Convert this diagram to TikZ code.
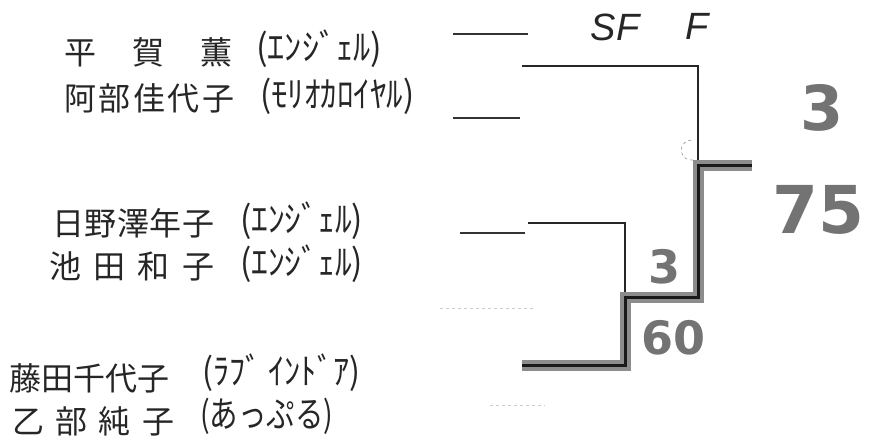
\documentclass[tikz,border=0pt]{standalone}
\usepackage{fontspec}
\usepackage{graphicx}
\newfontfamily\jp{Noto Sans CJK JP}
\newfontfamily\hand{DejaVu Sans}
\newfontfamily\letters{Liberation Sans}
\newcommand\spreadtxt[2]{\makebox[#1pt][s]{#2}}
\newcommand\clubtxt[2]{\resizebox{#1pt}{\height}{#2}}
\tikzset{
  namebox/.style={anchor=west, inner sep=0pt, text=black!85, font=\jp\fontsize{32}{32}\selectfont},
  clubbox/.style={anchor=west, inner sep=0pt, text=black!85, font=\jp\fontsize{36}{36}\selectfont},
  headbox/.style={inner sep=0pt, text=black!85, font=\letters\itshape\fontsize{38}{38}\selectfont},
  scorebox/.style={inner sep=0pt, text=black!55, font=\hand\bfseries},
  thinline/.style={line width=1.8pt, draw=black!85},
  faintline/.style={line width=1.2pt, draw=black!80},
  heavyline/.style={line width=3pt, draw=black!90, line join=miter,
     preaction={draw, line width=11pt, black!45, line join=miter}},
  ghost/.style={line width=0.6pt, draw=black!20, dashed}
}
\begin{document}
\begin{tikzpicture}[x=1pt,y=-1pt]
\useasboundingbox (0,0) rectangle (869,441);
\fill[white] (0,0) rectangle (869,441);

% names
\node[namebox] (n1) at (64,52) {\spreadtxt{168}{平\hfill 賀\hfill 薫}};
\node[clubbox] (c1) at (256,49) {\clubtxt{126}{(ｴﾝｼﾞｪﾙ)}};
\node[namebox] (n2) at (64,98) {\spreadtxt{170}{阿\hfill 部\hfill 佳\hfill 代\hfill 子}};
\node[clubbox] (c2) at (260,96) {\clubtxt{154}{(ﾓﾘｵｶﾛｲﾔﾙ)}};
\node[namebox] (n3) at (52,223) {\spreadtxt{162}{日\hfill 野\hfill 澤\hfill 年\hfill 子}};
\node[clubbox] (c3) at (240,221) {\clubtxt{123}{(ｴﾝｼﾞｪﾙ)}};
\node[namebox] (n4) at (49,266) {\spreadtxt{165}{池\hfill 田\hfill 和\hfill 子}};
\node[clubbox] (c4) at (240,264) {\clubtxt{123}{(ｴﾝｼﾞｪﾙ)}};
\node[namebox] (n5) at (9,378) {\spreadtxt{160}{藤\hfill 田\hfill 千\hfill 代\hfill 子}};
\node[clubbox] (c5) at (202,373) {\clubtxt{158}{(ﾗﾌﾞ ｲﾝﾄﾞｱ)}};
\node[namebox] (n6) at (12,421) {\spreadtxt{162}{乙\hfill 部\hfill 純\hfill 子}};
\node[clubbox] (c6) at (200,416) {\clubtxt{133}{(あっぷる)}};

% headings
\node[headbox] (sf) at (615,27) {SF};
\node[headbox] (f) at (697,26) {F};

% scores
\node[scorebox, font=\hand\bfseries\fontsize{62}{62}\selectfont] (s1) at (822,108) {3};
\node[scorebox, font=\hand\bfseries\fontsize{66}{66}\selectfont] (s2) at (818,210) {75};
\node[scorebox, font=\hand\bfseries\fontsize{46}{46}\selectfont] (s3) at (664,267) {3};
\node[scorebox, font=\hand\bfseries\fontsize{46}{46}\selectfont] (s4) at (673,338) {60};

% short entry lines
\coordinate (e1a) at (453,34);  \coordinate (e1b) at (528,34);
\coordinate (e2a) at (453,118); \coordinate (e2b) at (520,118);
\coordinate (e3a) at (460,233); \coordinate (e3b) at (525,233);
\draw[faintline] (e1a) -- (e1b);
\draw[faintline] (e2a) -- (e2b);
\draw[faintline] (e3a) -- (e3b);

% bracket points
\coordinate (t1) at (522,66);
\coordinate (k1) at (698,66);
\coordinate (m1) at (698,165);
\coordinate (w1) at (752,165);
\coordinate (f1) at (698,297);
\coordinate (t2) at (528,223);
\coordinate (k2) at (625,223);
\coordinate (s2p) at (625,297);
\coordinate (k3) at (625,365);
\coordinate (b3) at (522,365);

\draw[thinline] (t1) -- (k1) -- (m1);
\draw[thinline] (t2) -- (k2) -- (s2p);
\draw[heavyline] (w1) -- (m1) -- (f1) -- (s2p) -- (k3) -- (b3);

% faint scan marks
\coordinate (g1a) at (440,308); \coordinate (g1b) at (535,308);
\coordinate (g2a) at (490,405); \coordinate (g2b) at (545,405);
\draw[ghost] (g1a) -- (g1b);
\draw[ghost] (g2a) -- (g2b);
\draw[ghost, draw=black!40] (693,160) arc[start angle=80, end angle=280, radius=10];
\end{tikzpicture}
\end{document}
